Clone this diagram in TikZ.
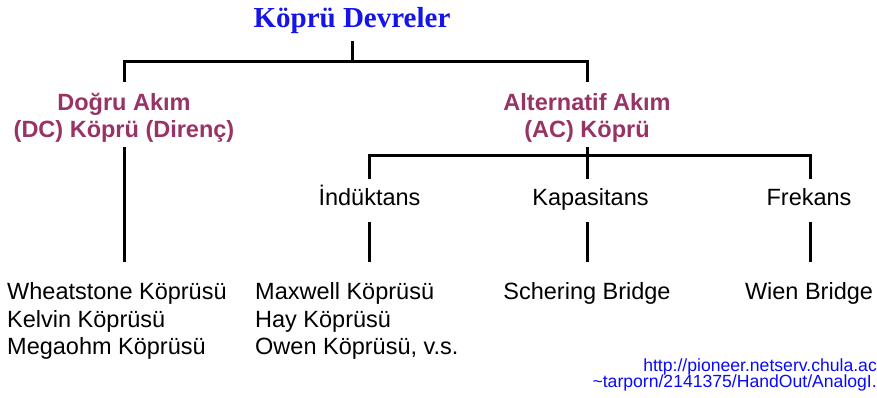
\documentclass[tikz,border=0pt]{standalone}
\usepackage{fontspec}
\setmainfont{Liberation Sans}
\newfontfamily\titlefont{Liberation Serif}
\definecolor{ttlblue}{RGB}{20,20,235}
\definecolor{catcol}{RGB}{153,51,102}
\definecolor{urlblue}{RGB}{10,10,250}
\begin{document}
\begin{tikzpicture}[x=1pt,y=-1pt,
  conn/.style={line width=3pt,line join=miter},
  txt/.style={inner sep=0pt,anchor=base,font=\fontsize{23.5}{27.5}\selectfont},
  lft/.style={txt,anchor=base west},
  cat/.style={txt,font=\bfseries\fontsize{23.5}{27.5}\selectfont,text=catcol},
  urltxt/.style={inner sep=0pt,anchor=base east,font=\fontsize{17.6}{18}\selectfont,text=urlblue}]
\useasboundingbox[fill=white] (0,0) rectangle (877,397);
% title
\node[inner sep=0pt,anchor=base,font=\titlefont\bfseries\fontsize{29}{32}\selectfont,text=ttlblue] (title) at (352,27) {Köprü Devreler};
% categories
\node[cat] (dc1) at (124,110) {Doğru Akım};
\node[cat] (dc2) at (124,137) {(DC) Köprü (Direnç)};
\node[cat] (ac1) at (587,110) {Alternatif Akım};
\node[cat] (ac2) at (587,137) {(AC) Köprü};
% sub categories
\node[txt] (ind) at (369.5,205) {İndüktans};
\node[txt] (kap) at (590.5,205) {Kapasitans};
\node[txt] (fre) at (809,205) {Frekans};
% leaves
\node[lft] (wh) at (7,299) {Wheatstone Köprüsü};
\node[lft] (ke) at (7,327) {Kelvin Köprüsü};
\node[lft] (me) at (7,354) {Megaohm Köprüsü};
\node[lft] (mx) at (255,299) {Maxwell Köprüsü};
\node[lft] (hy) at (255,327) {Hay Köprüsü};
\node[lft] (ow) at (255,354) {Owen Köprüsü, v.s.};
\node[txt] (sch) at (587,299) {Schering Bridge};
\node[txt] (wie) at (809,299) {Wien Bridge};
% source
\node[urltxt] (url1) at (877,371) {http://pioneer.netserv.chula.ac};
\node[urltxt] (url2) at (877,387) {\textasciitilde tarporn/2141375/HandOut/AnalogI.};
% junction coordinates
\coordinate (t0) at (352,41);
\coordinate (t1) at (352,61);
\coordinate (dcT) at (124,82);
\coordinate (acT) at (587,82);
\coordinate (dcB) at (124,147);
\coordinate (dcL) at (124,262);
\coordinate (acB) at (587,147);
\coordinate (indT) at (369,179);
\coordinate (kapT) at (587,179);
\coordinate (freT) at (810,179);
\coordinate (indB) at (369,222);
\coordinate (kapB) at (587,222);
\coordinate (freB) at (810,222);
\coordinate (indL) at (369,262);
\coordinate (kapL) at (587,262);
\coordinate (freL) at (810,262);
% connectors
\draw[conn] (t0) -- (t1);
\draw[conn] (dcT) |- (t1) -| (acT);
\draw[conn] (dcB) -- (dcL);
\draw[conn] (acB) -- (kapT);
\draw[conn] (indT) |- (kapT |- 0,155) -| (freT);
\draw[conn] (indB) -- (indL);
\draw[conn] (kapB) -- (kapL);
\draw[conn] (freB) -- (freL);
\end{tikzpicture}
\end{document}
